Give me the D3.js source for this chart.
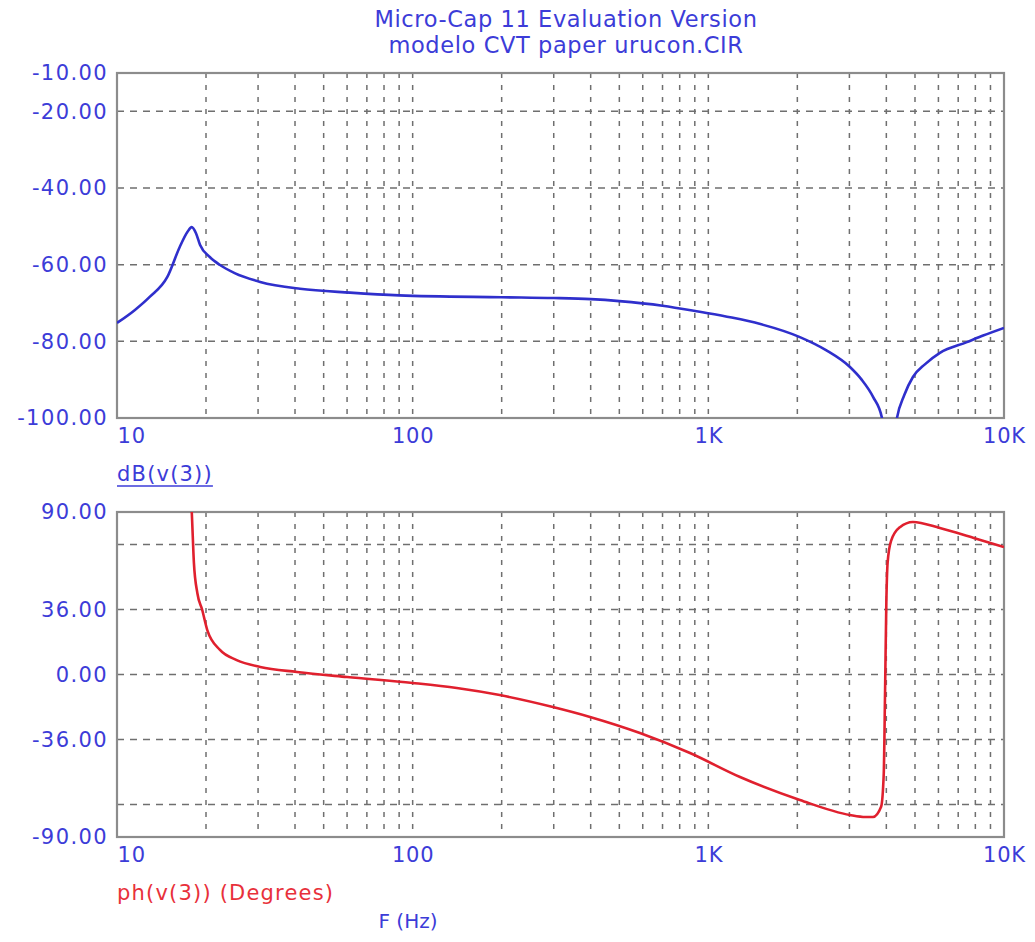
<!DOCTYPE html>
<html>
<head>
<meta charset="utf-8">
<script src="https://cdn.jsdelivr.net/npm/d3@7"></script>
<style>
  html, body { margin: 0; padding: 0; background: #ffffff; }
  svg { display: block; }
  text { font-family: "DejaVu Sans", Verdana, sans-serif; }
</style>
</head>
<body>
<svg id="chart" width="1035" height="942"></svg>
<script>
// ---------------- data ----------------
const titleLines = ["Micro-Cap 11 Evaluation Version", "modelo CVT paper urucon.CIR"];

const freqTicks = [10, 100, 1000, 10000];
const freqTickLabels = ["10", "100", "1K", "10K"];

const magTicks = [-10, -20, -40, -60, -80, -100];
const magGrid = [-20, -40, -60, -80];
const phTicks = [90, 36, 0, -36, -90];
const phGrid = [72, 36, 0, -36, -72];

// magnitude dB(v(3))
const magFreq = [10, 11.5, 12.9, 14.8, 16.3, 17.3, 17.9, 18.5, 19.1, 20.6, 22.3, 25.0, 30.5, 41.6, 61.4, 90, 200, 300, 400, 500, 700, 935, 1200, 1500, 2040, 2500, 3013, 3300, 3607, 3866, 4000, 4100, 4200, 4345, 4600, 4920, 5400, 6070, 7490, 8500, 10000];
const magDb   = [-75.2, -71.8, -68.4, -63.2, -55.4, -51.5, -50.2, -51.8, -54.9, -58.0, -60.1, -62.2, -64.5, -66.3, -67.3, -68.0, -68.5, -68.7, -69.0, -69.5, -70.7, -72.3, -73.8, -75.5, -78.9, -82.3, -86.7, -90.0, -94.5, -100.0, -108, -125, -108, -100.0, -94.0, -89.3, -86.0, -83.0, -80.2, -78.5, -76.5];

// phase ph(v(3)) (Degrees)
const phFreq = [17.6, 17.9, 18.2, 18.7, 19.4, 20.2, 22.3, 25.4, 30.5, 40.6, 60, 100, 141, 197, 298, 398, 587, 867, 1280, 2040, 3013, 3400, 3607, 3840, 3920, 3960, 4000, 4040, 4150, 4446, 4920, 6070, 7900, 10000];
const phDeg  = [110, 90, 62, 45, 36, 24.6, 13.6, 8.0, 4.2, 1.4, -1.4, -4.7, -7.5, -11.4, -18.0, -23.5, -32.4, -43.5, -56.8, -69.5, -77.8, -78.9, -78.9, -73.3, -55, -10, 40, 62, 74, 81.6, 84.5, 81.1, 75.6, 70.6];

// ---------------- layout ----------------
const svg = d3.select("#chart");
const blue = "#3c3cd8";
const left = 117, right = 1004;
const top1 = 73, bot1 = 418;
const top2 = 512, bot2 = 837;

const x = d3.scaleLog().domain([10, 10000]).range([left, right]);
const yMag = d3.scaleLinear().domain([-100, -10]).range([bot1, top1]);
const yPh = d3.scaleLinear().domain([-90, 90]).range([bot2, top2]);

const fmt = d => d3.format(".2f")(d).replace("\u2212", "-");

// title
svg.selectAll("text.title").data(titleLines).enter().append("text")
  .attr("class", "title")
  .attr("x", 566).attr("y", (d, i) => 27 + i * 26)
  .attr("text-anchor", "middle")
  .attr("font-size", 22.5)
  .attr("letter-spacing", 0.6)
  .attr("fill", blue)
  .text(d => d);

// vertical grid frequencies
const vGrid = [];
[10, 100, 1000].forEach(dec => { for (let k = 2; k <= 10; k++) { const f = dec * k; if (f < 10000) vGrid.push(f); } });

function panel(yScale, grid, ticks, yTop, yBot, id) {
  const g = svg.append("g");
  g.selectAll("line.hg").data(grid).enter().append("line")
    .attr("x1", left).attr("x2", right)
    .attr("y1", d => yScale(d)).attr("y2", d => yScale(d))
    .attr("stroke", "#6f6f6f").attr("stroke-width", 1.5)
    .attr("stroke-dasharray", "7,6");
  g.selectAll("line.vg").data(vGrid).enter().append("line")
    .attr("x1", d => x(d)).attr("x2", d => x(d))
    .attr("y1", yTop).attr("y2", yBot)
    .attr("stroke", "#6f6f6f").attr("stroke-width", 1.5)
    .attr("stroke-dasharray", "5,7");
  g.append("rect")
    .attr("x", left).attr("y", yTop)
    .attr("width", right - left).attr("height", yBot - yTop)
    .attr("fill", "none").attr("stroke", "#8c8c8c").attr("stroke-width", 2.2);
  svg.append("clipPath").attr("id", id).append("rect")
    .attr("x", left).attr("y", yTop).attr("width", right - left).attr("height", yBot - yTop);
  const ya = d3.axisLeft(yScale).tickValues(ticks).tickSize(0).tickPadding(9)
    .tickFormat(fmt);
  const ag = svg.append("g").attr("transform", `translate(${left},0)`).call(ya);
  ag.select(".domain").remove();
  ag.selectAll("text").attr("font-size", 21).attr("fill", blue)
    .attr("font-family", "DejaVu Sans, sans-serif").attr("letter-spacing", 1.4);
  const xa = d3.axisBottom(x).tickValues(freqTicks).tickSize(0).tickPadding(10)
    .tickFormat((d, i) => freqTickLabels[i]);
  const xg = svg.append("g").attr("transform", `translate(0,${yBot})`).call(xa);
  xg.select(".domain").remove();
  xg.selectAll("text").attr("font-size", 21).attr("fill", blue)
    .attr("font-family", "DejaVu Sans, sans-serif").attr("letter-spacing", 0.8)
    .attr("text-anchor", (d, i) => i === 0 ? "start" : "middle");
}

panel(yMag, magGrid, magTicks, top1, bot1, "clipMag");
panel(yPh, phGrid, phTicks, top2, bot2, "clipPh");

// curves
const magLine = d3.line().x((d, i) => x(magFreq[i])).y(d => yMag(d)).curve(d3.curveMonotoneX);
svg.append("path").datum(magDb)
  .attr("d", magLine)
  .attr("clip-path", "url(#clipMag)")
  .attr("fill", "none").attr("stroke", "#2f2fcc").attr("stroke-width", 2.6);

const phLine = d3.line().x((d, i) => x(phFreq[i])).y(d => yPh(d)).curve(d3.curveMonotoneX);
svg.append("path").datum(phDeg)
  .attr("d", phLine)
  .attr("clip-path", "url(#clipPh)")
  .attr("fill", "none").attr("stroke", "#e0202e").attr("stroke-width", 2.6);

// series labels
const l1 = svg.append("text").attr("x", left).attr("y", 481)
  .attr("font-size", 21).attr("letter-spacing", 1.2).attr("fill", blue).text("dB(v(3))");
const bb = l1.node().getBBox();
svg.append("line").attr("x1", bb.x).attr("x2", bb.x + bb.width)
  .attr("y1", 486).attr("y2", 486).attr("stroke", blue).attr("stroke-width", 1.5);

svg.append("text").attr("x", left).attr("y", 900)
  .attr("font-size", 21).attr("letter-spacing", 1.2).attr("fill", "#e8303a").text("ph(v(3)) (Degrees)");

svg.append("text").attr("x", 408).attr("y", 928)
  .attr("text-anchor", "middle")
  .attr("font-size", 20).attr("fill", blue).text("F (Hz)");
</script>
</body>
</html>
